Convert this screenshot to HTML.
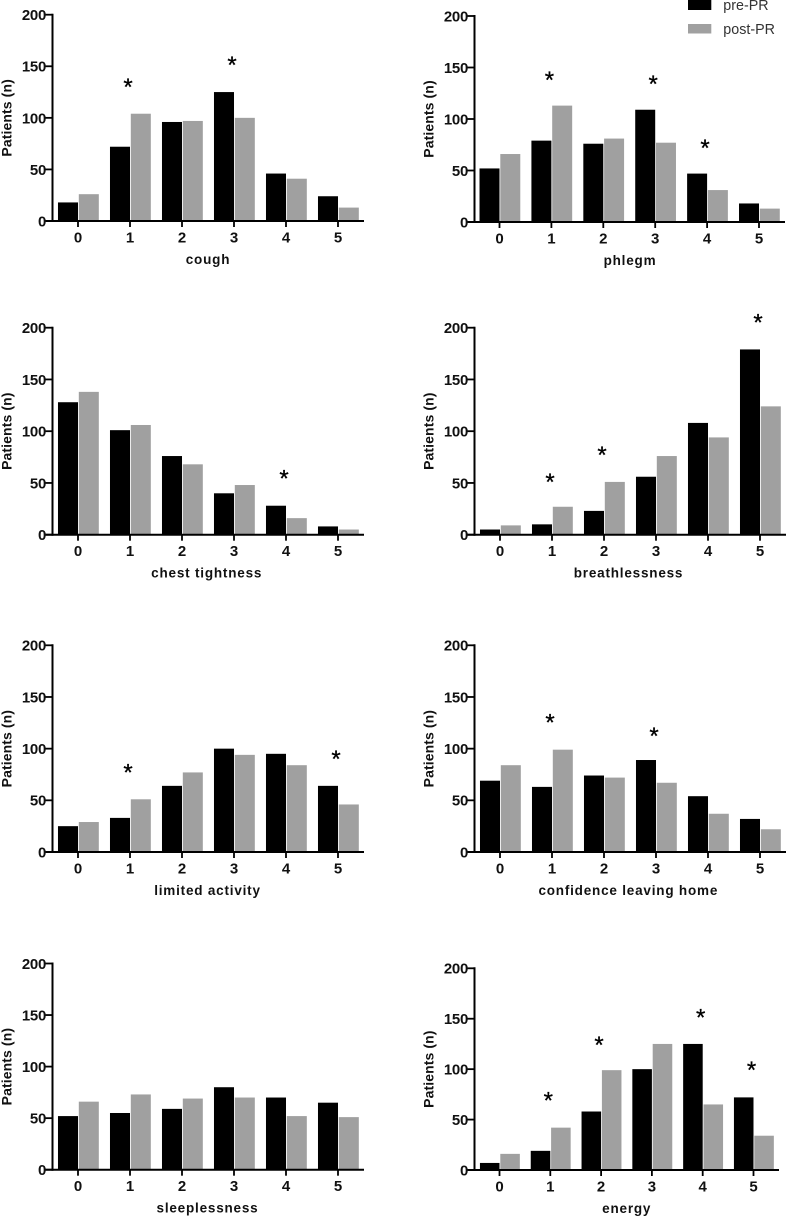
<!DOCTYPE html>
<html lang="en">
<head>
<meta charset="utf-8">
<title>Patients by symptom score, pre-PR and post-PR</title>
<style>
  html, body { margin: 0; padding: 0; background: #fff; }
  svg { display: block; font-family: "Liberation Sans", Arial, sans-serif; filter: blur(0.35px); }
</style>
</head>
<body>
<svg id="chart" xmlns="http://www.w3.org/2000/svg" width="786" height="1216" viewBox="0 0 786 1216">
  <rect x="0" y="0" width="786" height="1216" fill="#ffffff"></rect>
  <g>
    <rect x="688" y="0" width="23.3" height="10" fill="#000000"></rect>
    <text x="723.3" y="10" font-size="14.3" fill="#333333">pre-PR</text>
    <rect x="688" y="24" width="23.3" height="9.5" fill="#a0a0a0"></rect>
    <text x="723.3" y="34" font-size="14.3" fill="#333333">post-PR</text>
  </g>
</svg>
<script>
const categories = ['0', '1', '2', '3', '4', '5'];
const yTicks = [0, 50, 100, 150, 200];

const coughPre = [18, 72, 96, 125, 46, 24];
const coughPost = [26, 104, 97, 100, 41, 13];
const coughStarCats = [1, 3];
const coughStarLevels = [132, 153];

const phlegmPre = [52, 79, 76, 109, 47, 18];
const phlegmPost = [66, 113, 81, 77, 31, 13];
const phlegmStarCats = [1, 3, 4];
const phlegmStarLevels = [140, 136, 74];

const chestPre = [128, 101, 76, 40, 28, 8];
const chestPost = [138, 106, 68, 48, 16, 5];
const chestStarCats = [4];
const chestStarLevels = [56];

const breathPre = [5, 10, 23, 56, 108, 179];
const breathPost = [9, 27, 51, 76, 94, 124];
const breathStarCats = [1, 2, 5];
const breathStarLevels = [53, 79, 207];

const activityPre = [25, 33, 64, 100, 95, 64];
const activityPost = [29, 51, 77, 94, 84, 46];
const activityStarCats = [1, 5];
const activityStarLevels = [79, 92];

const confidencePre = [69, 63, 74, 89, 54, 32];
const confidencePost = [84, 99, 72, 67, 37, 22];
const confidenceStarCats = [1, 3];
const confidenceStarLevels = [127, 114];

const sleepPre = [52, 55, 59, 80, 70, 65];
const sleepPost = [66, 73, 69, 70, 52, 51];
const sleepStarCats = [];
const sleepStarLevels = [];

const energyPre = [7, 19, 58, 100, 125, 72];
const energyPost = [16, 42, 99, 125, 65, 34];
const energyStarCats = [1, 2, 4, 5];
const energyStarLevels = [71, 126, 153, 101];

const SVG_NS = 'http://www.w3.org/2000/svg';
const root = document.getElementById('chart');

function make(parent, tag, attrs, text) {
  const el = document.createElementNS(SVG_NS, tag);
  for (const k in attrs) el.setAttribute(k, attrs[k]);
  if (text !== undefined) el.textContent = text;
  parent.appendChild(el);
  return el;
}

function drawPanel(p) {
  const yScale = v => p.y0 - (v / 200) * (p.y0 - p.y200);
  const xScale = i => p.x0 + i * p.step;
  const barW = p.step * 0.385;

  const g = make(root, 'g', {});
  
  

  p.pre.forEach((v, i) => {
    const r = make(g, 'rect', { x: xScale(i) - barW, y: yScale(v), width: barW, height: p.y0 - yScale(v), fill: '#000000' });
    
    
  });
  p.post.forEach((v, i) => {
    const r = make(g, 'rect', { x: xScale(i) + 0.8, y: yScale(v), width: barW, height: p.y0 - yScale(v), fill: '#a0a0a0' });
    
    
  });

  const yAxis = make(g, 'line', { x1: p.axisX, x2: p.axisX, y1: yScale(200) - 1, y2: p.y0 + 1, stroke: '#000', 'stroke-width': 2 });
  
  
  const xAxis = make(g, 'line', { x1: p.axisX - 7, x2: p.xEnd, y1: p.y0, y2: p.y0, stroke: '#000', 'stroke-width': 2 });
  
  

  yTicks.forEach(t => {
    const tick = make(g, 'line', { x1: p.axisX - 7, x2: p.axisX, y1: yScale(t), y2: yScale(t), stroke: '#000', 'stroke-width': 1.8 });
    
    
    const label = make(g, 'text', { x: p.axisX - 6.5, y: yScale(t) + 5.4, 'text-anchor': 'end', 'font-size': 15, 'font-weight': 'bold', 'letter-spacing': '-0.3', fill: '#111' }, String(t));
    
    
  });

  categories.forEach((c, i) => {
    const tick = make(g, 'line', { x1: xScale(i), x2: xScale(i), y1: p.y0, y2: p.y0 + 6, stroke: '#000', 'stroke-width': 1.8 });
    
    
    const label = make(g, 'text', { x: xScale(i), y: p.y0 + 21.3, 'text-anchor': 'middle', 'font-size': 15, 'font-weight': 'bold', fill: '#111' }, c);
    
    
  });

  const yTitle = make(g, 'text', { transform: 'translate(' + (p.axisX - 41) + ',' + yScale(100) + ') rotate(-90)', 'text-anchor': 'middle', 'font-size': 14, 'font-weight': 'bold', 'letter-spacing': '0.1', fill: '#111' }, 'Patients (n)');
  
  

  const xTitle = make(g, 'text', { x: p.titleX, y: p.y0 + 43, 'text-anchor': 'middle', 'font-size': 13.5, 'font-weight': 'bold', 'letter-spacing': '0.8', fill: '#111' }, p.title);
  
  

  p.starCats.forEach((c, i) => {
    const s = make(g, 'text', { x: xScale(c) - 2, y: yScale(p.starLevels[i]) + 10, 'text-anchor': 'middle', 'font-size': 24, stroke: '#000', 'stroke-width': 0.3, fill: '#000' }, '*');
    
    
  });
}

drawPanel({ name: 'cough', title: 'cough', pre: coughPre, post: coughPost, starCats: coughStarCats, starLevels: coughStarLevels, axisX: 52.5, x0: 78, step: 52, xEnd: 364, y0: 221, y200: 14.7, titleX: 208 });
drawPanel({ name: 'phlegm', title: 'phlegm', pre: phlegmPre, post: phlegmPost, starCats: phlegmStarCats, starLevels: phlegmStarLevels, axisX: 474.5, x0: 499.5, step: 51.9, xEnd: 785, y0: 222, y200: 16, titleX: 630 });
drawPanel({ name: 'chest-tightness', title: 'chest tightness', pre: chestPre, post: chestPost, starCats: chestStarCats, starLevels: chestStarLevels, axisX: 52.5, x0: 78, step: 52, xEnd: 364, y0: 534.7, y200: 327.7, titleX: 206.7 });
drawPanel({ name: 'breathlessness', title: 'breathlessness', pre: breathPre, post: breathPost, starCats: breathStarCats, starLevels: breathStarLevels, axisX: 474.5, x0: 500, step: 52, xEnd: 786, y0: 534.7, y200: 327.7, titleX: 628.5 });
drawPanel({ name: 'limited-activity', title: 'limited activity', pre: activityPre, post: activityPost, starCats: activityStarCats, starLevels: activityStarLevels, axisX: 52.5, x0: 78, step: 52, xEnd: 364, y0: 852, y200: 645.3, titleX: 207.5 });
drawPanel({ name: 'confidence-leaving-home', title: 'confidence leaving home', pre: confidencePre, post: confidencePost, starCats: confidenceStarCats, starLevels: confidenceStarLevels, axisX: 474.5, x0: 500, step: 52, xEnd: 786, y0: 852, y200: 645.3, titleX: 628.3 });
drawPanel({ name: 'sleeplessness', title: 'sleeplessness', pre: sleepPre, post: sleepPost, starCats: sleepStarCats, starLevels: sleepStarLevels, axisX: 52.5, x0: 78, step: 52, xEnd: 364, y0: 1169.7, y200: 963.5, titleX: 207.5 });
drawPanel({ name: 'energy', title: 'energy', pre: energyPre, post: energyPost, starCats: energyStarCats, starLevels: energyStarLevels, axisX: 474.5, x0: 499.5, step: 50.8, xEnd: 779, y0: 1170, y200: 968.3, titleX: 626.7 });
</script>
</body>
</html>
